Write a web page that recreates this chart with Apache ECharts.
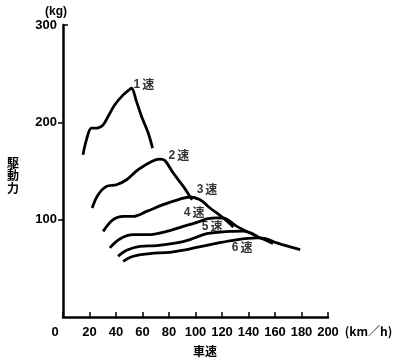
<!DOCTYPE html>
<html>
<head>
<meta charset="utf-8">
<script src="https://cdn.jsdelivr.net/npm/echarts@6/dist/echarts.min.js"></script>
<style>html,body{margin:0;padding:0;background:#fff}#c{width:400px;height:362px}</style>
</head>
<body>
<div id="c"></div>
<script>
// Data (speed km/h, driving force kg)
const gearNames = ['1速', '2速', '3速', '4速', '5速', '6速'];
const gear1 = [[15.1,166.7],[17.7,182],[21.5,194],[25.3,194],[30.3,197.4],[34,206],[39.1,218],[45.4,228.2],[50.5,234],[51.7,235],[55.5,221.3],[59.3,206],[64.3,189],[67.6,173.5]];
const gear2 = [[22,112],[26.5,125.6],[32.8,134.2],[40.4,135.9],[48,141],[56.7,151.3],[66.9,159.8],[73.1,162.2],[76.9,160.8],[83.2,147.9],[90.8,134.2],[95.8,123.9],[97.5,120.5]];
const gear3 = [[30.3,88],[37.8,100],[45.4,103.4],[53,103.4],[63.1,108.5],[75.6,115.4],[88.3,121.2],[95.8,123.3],[103.4,120.5],[111,112],[121,101.7],[128.5,92.5]];
const gear4 = [[35.3,71],[42.9,80.2],[53,84.6],[64.3,84.6],[78.2,88],[90.8,93.1],[103.4,98.3],[108.5,100.7],[116,101.9],[121,101.7],[131.2,93.1],[146.3,82.9]];
const gear5 = [[41.6,62.4],[48,68.5],[58,72.6],[70.7,73.3],[85.8,76.1],[95.8,79.5],[108.5,85.6],[126.1,88],[136,88.3],[142.5,86],[146.3,82.9],[158.5,75.6]];
const gear6 = [[45.4,57.2],[53,62.4],[65.6,65.1],[80.7,66.5],[93.3,69.2],[111,74.4],[128.6,78.8],[146.3,81.2],[153,80.5],[161.4,76.1],[179,69.2]];
const gearLabelPos = [[61,238.5],[87.5,165.6],[108.7,130.8],[98.9,107.2],[112.5,92.8],[135.2,71.3]];
const xTicks = [0,20,40,60,80,100,120,140,160,180,200];
const yTicks = [0,100,200,300];

const gears = [gear1, gear2, gear3, gear4, gear5, gear6];
const numFont = '"Liberation Sans", "Noto Sans CJK JP", sans-serif';
const cjkFont = '"Noto Sans CJK JP", sans-serif';

const chart = echarts.init(document.getElementById('c'), null, {renderer: 'canvas'});
const series = gears.map((g, i) => ({
  name: gearNames[i],
  type: 'line',
  data: g,
  smooth: 0.35,
  symbol: 'none',
  lineStyle: {color: '#000', width: 2.8},
  z: 3
}));
series.push({
  type: 'scatter',
  symbolSize: 0,
  data: gearLabelPos.map((p, i) => ({name: gearNames[i], value: p})),
  label: {
    show: true, position: 'inside',
    formatter: p => '{d|' + p.name.charAt(0) + '}{k|' + p.name.slice(1) + '}',
    rich: {
      d: {color: '#000', fontSize: 12, fontWeight: 'bold', fontFamily: numFont, padding: [0, 2, 0, 0]},
      k: {color: '#000', fontSize: 12, fontWeight: 'bold', fontFamily: cjkFont}
    }
  },
  silent: true,
  z: 4
});

chart.setOption({
  animation: false,
  grid: {left: 63, right: 72, top: 25, bottom: 45, containLabel: false},
  xAxis: {
    type: 'value', min: xTicks[0], max: xTicks[xTicks.length - 1], interval: 20,
    axisLine: {lineStyle: {color: '#000', width: 2.5}},
    axisTick: {inside: true, length: 5, lineStyle: {color: '#000', width: 1.5}},
    splitLine: {show: false},
    axisLabel: {
      margin: 9, color: '#000', fontSize: 13, fontWeight: 'bold', fontFamily: numFont,
      formatter: v => v === 0 ? '{z|0}' : String(v),
      rich: {z: {padding: [0, 16, 0, 0], fontSize: 13, fontWeight: 'bold', fontFamily: numFont, color: '#000'}}
    },
    name: '(km／h)', nameLocation: 'end', nameGap: 11,
    nameTextStyle: {color: '#000', fontSize: 12, fontWeight: 'bold', fontFamily: cjkFont, align: 'left', verticalAlign: 'top', padding: [8, 0, 0, 0]}
  },
  yAxis: [{
    type: 'value', min: yTicks[0], max: yTicks[yTicks.length - 1], interval: 100, position: 'left',
    axisLine: {show: true, lineStyle: {color: '#000', width: 2.5}},
    axisTick: {show: true, length: 5, customValues: [100, 200], lineStyle: {color: '#000', width: 1.5}},
    splitLine: {show: false},
    axisLabel: {
      margin: 6, color: '#000', fontSize: 13, fontWeight: 'bold', fontFamily: numFont,
      formatter: v => v === 0 ? '' : String(v)
    }
  }, {
    type: 'value', min: yTicks[0], max: yTicks[yTicks.length - 1], interval: 100, position: 'left',
    axisLine: {show: false},
    axisTick: {show: true, inside: true, length: 5, customValues: [300], lineStyle: {color: '#000', width: 1.5}},
    splitLine: {show: false},
    axisLabel: {show: false}
  }],
  graphic: [
    {type: 'text', left: 45, top: 6, style: {text: '(kg)', fill: '#000', font: 'bold 12px ' + numFont}},
    {type: 'text', left: 7, top: 157, style: {text: '駆\n動\n力', fill: '#000', font: 'bold 12px ' + cjkFont, lineHeight: 12.5}},
    {type: 'text', left: 193, top: 345, style: {text: '車速', fill: '#000', font: 'bold 12px ' + cjkFont}}
  ],
  series: series
});
</script>
</body>
</html>
